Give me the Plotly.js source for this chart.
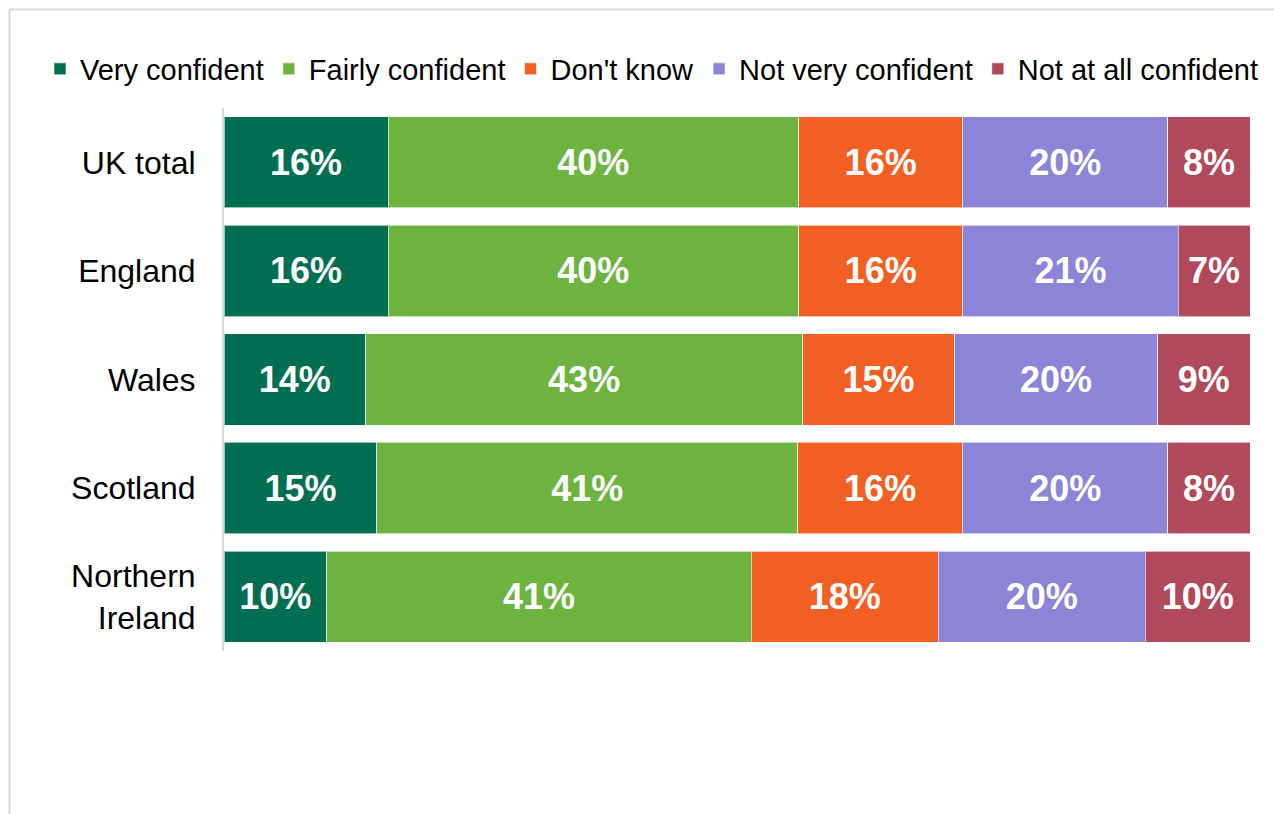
<!DOCTYPE html>
<html>
<head>
<meta charset="utf-8">
<script src="https://cdn.plot.ly/plotly-3.0.1.min.js"></script>
<style>html,body{margin:0;padding:0;background:#fff;}#chart{width:1274px;height:814px;}</style>
</head>
<body>
<div id="chart"></div>
<script>
const categories = ["UK total", "England", "Wales", "Scotland", "Northern<br>Ireland"];
const veryConfident     = [16.0, 16.0, 13.8, 14.9, 10.0];
const fairlyConfident   = [40.0, 40.0, 42.6, 41.0, 41.4];
const dontKnow          = [16.0, 16.0, 14.8, 16.1, 18.2];
const notVeryConfident  = [20.0, 21.0, 19.8, 20.0, 20.2];
const notAtAllConfident = [8.0, 7.0, 9.0, 8.0, 10.2];

const seriesNames = ["Very confident", "Fairly confident", "Don't know", "Not very confident", "Not at all confident"];
const seriesValues = [veryConfident, fairlyConfident, dontKnow, notVeryConfident, notAtAllConfident];
const seriesColors = ["#006F51", "#6DB33F", "#F15F22", "#8B84D7", "#B0495A"];

const font = "Liberation Sans, Arial, sans-serif";

const traces = seriesNames.map((name, i) => ({
  type: "bar",
  orientation: "h",
  name: name,
  y: categories,
  x: seriesValues[i],
  marker: {color: seriesColors[i], line: {color: "rgba(255,255,255,0.6)", width: 1}},
  texttemplate: "%{x:.0f}%",
  textposition: "inside",
  insidetextanchor: "middle",
  constraintext: "none",
  textfont: {family: font, size: 36, color: "#ffffff", weight: "bold"},
  hoverinfo: "skip"
}));

const plotTop = 108, plotBottom = 651, plotLeft = 224, plotW = 1026;
const pxX = px => (px - plotLeft) / plotW;
const pxY = py => (plotBottom - py) / (plotBottom - plotTop);

const layout = {
  width: 1274,
  height: 814,
  barmode: "stack",
  bargap: 0.16,
  paper_bgcolor: "#ffffff",
  plot_bgcolor: "#ffffff",
  margin: {l: 224, r: 24, t: 108, b: 163, autoexpand: false},
  showlegend: true,
  legend: {
    orientation: "h",
    xref: "paper", yref: "paper",
    x: pxX(40), xanchor: "left",
    y: pxY(69), yanchor: "middle",
    font: {family: font, size: 29, color: "#000000"},
    itemclick: false,
    traceorder: "normal"
  },
  xaxis: {
    range: [0, 100],
    showgrid: false, zeroline: false, showticklabels: false, showline: false, ticks: ""
  },
  yaxis: {
    autorange: "reversed",
    showgrid: false, zeroline: false,
    showline: true, linecolor: "#D9D9D9", linewidth: 2,
    ticks: "",
    ticklabelstandoff: 20,
    tickfont: {family: font, size: 32, color: "#000000"}
  },
  shapes: [
    {type: "line", xref: "paper", yref: "paper",
     x0: pxX(9.5), x1: 1.2, y0: pxY(9.5), y1: pxY(9.5),
     line: {color: "#D9D9D9", width: 2}},
    {type: "line", xref: "paper", yref: "paper",
     x0: pxX(9.5), x1: pxX(9.5), y0: pxY(9.5), y1: -0.5,
     line: {color: "#D9D9D9", width: 2}}
  ]
};

Plotly.newPlot("chart", traces, layout, {displayModeBar: false, staticPlot: true});
</script>
</body>
</html>
